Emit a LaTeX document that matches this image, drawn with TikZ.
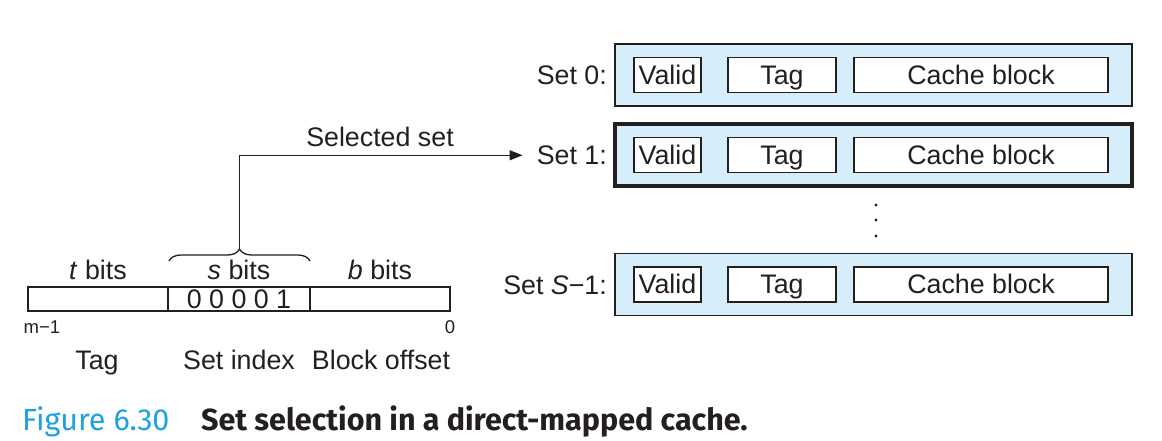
\documentclass[tikz,border=0pt]{standalone}
\usepackage{fontspec}
\setmainfont{Liberation Sans}
\newfontfamily\capfont{Fira Sans}
\usetikzlibrary{decorations.pathreplacing,arrows.meta}
\definecolor{setfill}{RGB}{214,238,250}
\definecolor{figblue}{RGB}{30,160,225}
\definecolor{ink}{RGB}{35,31,32}
\begin{document}
\begin{tikzpicture}[x=1pt,y=-1pt,
  every node/.style={text=ink},
  txt/.style={font=\fontsize{26.8}{30}\selectfont, inner sep=0pt},
  small/.style={font=\fontsize{18.5}{20}\selectfont, inner sep=0pt},
  setbox/.style={draw=ink, line width=1.3pt, fill=setfill, minimum width=517pt, minimum height=62pt, inner sep=0pt},
  selbox/.style={setbox, line width=3.5pt},
  field/.style={draw=ink, line width=1.3pt, fill=white, minimum height=35pt, inner sep=0pt,
    text height=18pt, text depth=0pt, font=\fontsize{26.8}{30}\selectfont},
  addr/.style={draw=ink, line width=1.3pt, minimum height=24pt, inner sep=0pt,
    text height=18pt, text depth=0pt, font=\fontsize{26.8}{30}\selectfont},
  conn/.style={draw=ink, line width=1.3pt}
]
\useasboundingbox (0,0) rectangle (1162,440);

% cache sets
\node[setbox] (set0) at (873.5,75) {};
\node[selbox] (set1) at (873.5,155) {};
\node[setbox] (setS) at (873.5,284.5) {};
\foreach \s/\y in {0/75, 1/155, S/284.5}{
  \node[field, minimum width=67pt]  (v\s) at (667.5,\y) {Valid};
  \node[field, minimum width=108pt] (t\s) at (782,\y) {Tag};
  \node[field, minimum width=254pt] (c\s) at (981,\y) {Cache block};
}
\node[txt, anchor=base east] (l0) at (607,84.5) {Set 0:};
\node[txt, anchor=base east] (l1) at (607,164.5) {Set 1:};
\node[txt, anchor=base east] (lS) at (607,294) {Set \textit{S}−1:};

% dots
\foreach \y [count=\i] in {205,220,236}
  \fill[ink] (876,\y) circle (1.6pt) coordinate (d\i);

% address
\node[addr, minimum width=140pt] (tagf) at (98,299) {};
\node[addr, minimum width=142pt] (setf) at (239,299) {0 0 0 0 1};
\node[addr, minimum width=140pt] (blkf) at (380,299) {};

\node[txt, anchor=base] (tb) at (98,279) {\textit{t} bits};
\node[txt, anchor=base] (sb) at (239,279) {\textit{s} bits};
\node[txt, anchor=base] (bb) at (380,279) {\textit{b} bits};

\node[small, anchor=base] (mm) at (42,333) {m−1};
\node[small, anchor=base] (zz) at (450,333) {0};

\node[txt, anchor=base] (tagl) at (97,369) {Tag};
\node[txt, anchor=base] (setl) at (239,369) {Set index};
\node[txt, anchor=base] (blkl) at (381,369) {Block offset};

% brace and arrow
\coordinate (bl) at (169,261);
\coordinate (br) at (310,261);
\draw[conn, decorate, decoration={brace, amplitude=12pt}] (bl) -- (br);
\coordinate (bt) at (239.5,249);
\draw[conn, -{Triangle[length=13pt,width=10pt]}, shorten >=14pt] (bt) |- (l1.west);
\node[txt, anchor=base] (sel) at (380,146) {Selected set};

% caption
\node[anchor=base west, inner sep=0pt, font=\capfont\fontsize{30.5}{34}\selectfont, text=figblue] (fig) at (22,430) {Figure 6.30};
\node[anchor=base west, inner sep=0pt, font=\capfont\bfseries\fontsize{30.5}{34}\selectfont] (cap) at (201,430) {Set selection in a direct-mapped cache.};
\end{tikzpicture}
\end{document}
